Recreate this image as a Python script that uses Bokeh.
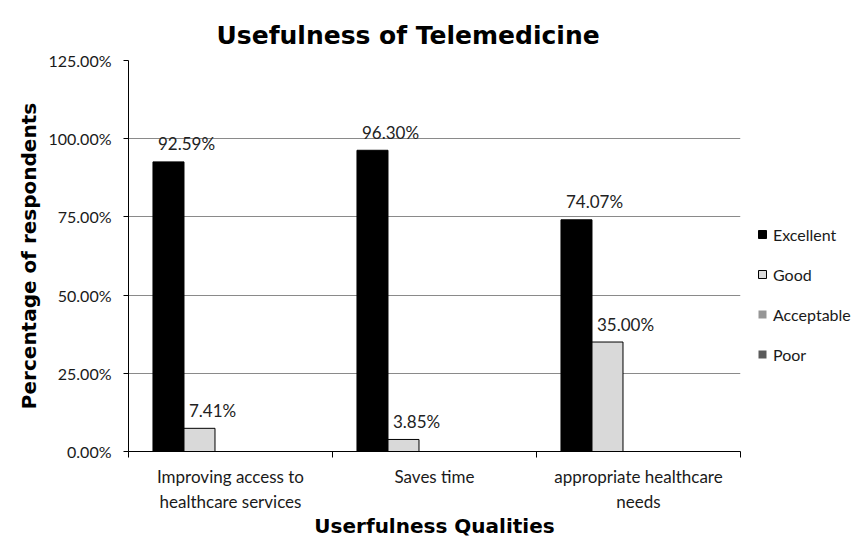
from bokeh.plotting import figure
from bokeh.models import (Legend, LegendItem, FixedTicker, PrintfTickFormatter,
                          Range1d, ColumnDataSource, Title)
from bokeh.embed import file_html
from bokeh.resources import INLINE
from bokeh.core.properties import value

# ---- data ----
categories = ["Improving access to\nhealthcare services", "Saves time",
              "appropriate healthcare\nneeds"]
series_names = ["Excellent", "Good", "Acceptable", "Poor"]
excellent = [92.59, 96.30, 74.07]
good = [7.41, 3.85, 35.00]
acceptable = [0.0, 0.0, 0.0]
poor = [0.0, 0.0, 0.0]
y_ticks = [0, 25, 50, 75, 100, 125]

# ---- styles ----
colors = ["#000000", "#d9d9d9", "#969696", "#5a5a5a"]
outlines = ["#000000", "#000000", None, None]
bar_w = 0.152
slot = [-2, -1, 0, 1]  # slot index of each series within a category group

p = figure(width=851, height=542, output_backend="svg", toolbar_location=None,
           x_range=Range1d(0, len(categories)), y_range=Range1d(0, 125),
           frame_width=612, frame_height=391,
           min_border_left=128, min_border_right=111,
           min_border_top=60, min_border_bottom=91)
p.outline_line_color = None
p.background_fill_color = "white"
p.border_fill_color = "white"

all_values = [excellent, good, acceptable, poor]
renderers = []
for i, (name, vals) in enumerate(zip(series_names, all_values)):
    xs = [k + 0.5 + slot[i] * bar_w for k in range(len(categories))]
    src = ColumnDataSource(dict(x=xs, top=vals,
                                lbl=["%.2f%%" % v for v in vals],
                                xl=[x - bar_w / 2 for x in xs]))
    r = p.vbar(x="x", top="top", width=bar_w, bottom=0, source=src,
               fill_color=colors[i], line_color=outlines[i], line_width=1)
    renderers.append(r)
    if name in ("Excellent", "Good"):
        p.text(x="xl", y="top", text="lbl", source=src, x_offset=5, y_offset=-18,
               text_align="left", text_baseline="middle",
               text_font=value("Lato"), text_font_size="17px", text_color="#222222")

# y axis
p.yaxis.ticker = FixedTicker(ticks=y_ticks)
p.yaxis.formatter = PrintfTickFormatter(format="%.2f%%")
p.yaxis.major_tick_out = 5
p.yaxis.major_tick_in = 0
p.yaxis.minor_tick_out = 0
p.yaxis.minor_tick_in = 0
p.yaxis.major_label_standoff = 12
p.yaxis.axis_label = "Percentage of respondents"
p.yaxis.axis_label_standoff = 5
p.yaxis.major_label_text_font_size = "16px"
p.yaxis.axis_label_text_font_size = "20px"

# x axis: labels at category centres, ticks at category boundaries
centers = [k + 0.5 for k in range(len(categories))]
p.xaxis.ticker = FixedTicker(ticks=centers, minor_ticks=list(range(len(categories) + 1)))
p.xaxis.major_label_overrides = {c: lab for c, lab in zip(centers, categories)}
p.xaxis.major_tick_out = 0
p.xaxis.major_tick_in = 0
p.xaxis.minor_tick_out = 6
p.xaxis.minor_tick_in = 0
p.xaxis.major_label_standoff = 8
p.xaxis.axis_label = "Userfulness Qualities"
p.xaxis.axis_label_standoff = -1
p.xaxis.major_label_text_font_size = "17px"
p.xaxis.axis_label_text_font_size = "20px"

for ax in (p.xaxis, p.yaxis):
    ax.axis_line_color = "#000000"
    ax.major_tick_line_color = "#000000"
    ax.minor_tick_line_color = "#000000"
    ax.major_label_text_font = "Lato"
    ax.major_label_text_color = "#1a1a1a"
    ax.axis_label_text_font = "DejaVu Sans"
    ax.axis_label_text_font_style = "bold"
    ax.axis_label_text_color = "#000000"

p.xgrid.visible = False
p.ygrid.ticker = FixedTicker(ticks=y_ticks)
p.ygrid.grid_line_color = "#8a8a8a"
p.ygrid.grid_line_width = 1

p.title = Title(text="Usefulness of Telemedicine", align="left", offset=88,
                text_font="DejaVu Sans", text_font_size="25px",
                text_font_style="bold", text_color="#000000", standoff=21)

legend = Legend(items=[LegendItem(label=n, renderers=[r])
                       for n, r in zip(series_names, renderers)],
                location=(17, 87), orientation="vertical",
                glyph_width=10, glyph_height=10, label_height=20,
                spacing=20, padding=0, margin=0, label_standoff=6,
                label_text_font="Lato", label_text_font_size="16px",
                label_text_color="#1a1a1a", border_line_color=None,
                background_fill_alpha=0)
p.add_layout(legend, "right")

open("out.html", "w").write(file_html(p, INLINE))
